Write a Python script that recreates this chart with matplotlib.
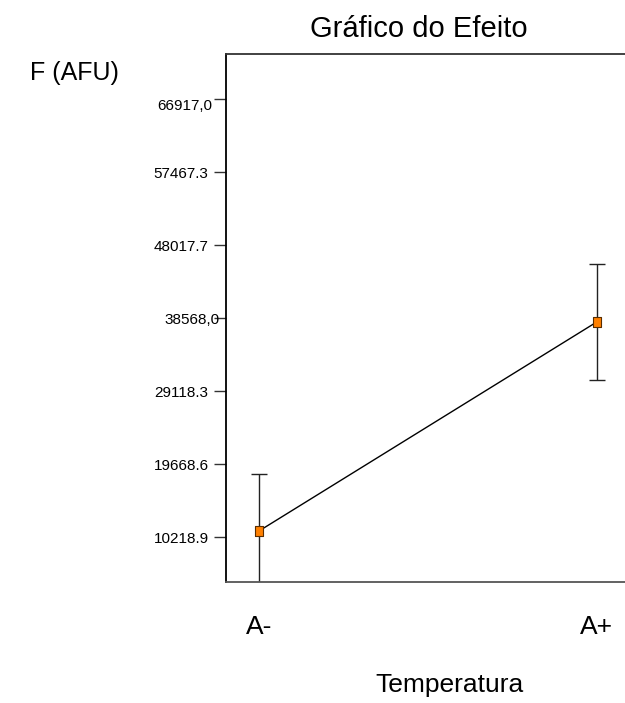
import matplotlib
matplotlib.use("Agg")
import matplotlib.pyplot as plt
import matplotlib.transforms as mtransforms

plt.rcParams['font.family'] = ['Liberation Sans', 'DejaVu Sans']

# effect of temperature on F (AFU): low / high level means and error half-widths
levels = ["A-", "A+"]
means = [11000, 38100]
errors = [7430, 7560]

ytick_vals = [10218.9, 19668.6, 29118.3, 38568.0, 48017.7, 57467.3, 66917.0]
ytick_text = ["10218.9", "19668.6", "29118.3", "38568,0", "48017.7", "57467.3", "66917,0"]

fig = plt.figure(figsize=(6.25, 7.03), dpi=100)
ax = fig.add_axes([0.3608, 0.1721, 0.6392, 0.7511])

xs = list(range(len(levels)))
ax.errorbar(xs, means, yerr=errors, fmt='none', ecolor='#222222',
            elinewidth=1.0, capsize=6, capthick=1.0, zorder=2)
ax.plot(xs, means, color='black', lw=1.0, zorder=3)
rect = [(-0.72, -1), (0.72, -1), (0.72, 1), (-0.72, 1), (-0.72, -1)]
ax.plot(xs, means, linestyle='none', marker=rect, markersize=7.5,
        markerfacecolor='#ff8000', markeredgecolor='#5a2d00',
        markeredgewidth=0.8, zorder=4)

ax.set_xlim(-0.099, 1.083)
ax.set_ylim(4390, 72810)

ax.spines['right'].set_visible(False)
for s in ['left', 'top', 'bottom']:
    ax.spines[s].set_linewidth(1.3)
ax.spines['top'].set_color('#333333')
ax.spines['bottom'].set_color('#555555')

ax.set_xticks(xs)
ax.set_xticklabels(levels, fontsize=19)
ax.tick_params(axis='x', length=0, pad=24)

ax.set_yticks(ytick_vals)
ax.set_yticklabels(ytick_text, fontsize=11)
ax.tick_params(axis='y', length=8.6, width=1.0, color='#333333', pad=3.6)

# the comma-formatted labels sit closer to their ticks
ticks = ax.yaxis.get_major_ticks()
ticks[3].set_pad(-4.0)
ticks[6].set_pad(1.0)
shift = mtransforms.ScaledTranslation(0, -5 / 100, fig.dpi_scale_trans)
ticks[6].label1.set_transform(ticks[6].label1.get_transform() + shift)

fig.text(0.670, 0.9467, "Gráfico do Efeito", fontsize=21, ha='center', va='baseline')
fig.text(0.048, 0.886, "F (AFU)", fontsize=18, ha='left', va='baseline')
fig.text(0.720, 0.016, "Temperatura", fontsize=19, ha='center', va='baseline')

fig.savefig("out.png", dpi=100)
